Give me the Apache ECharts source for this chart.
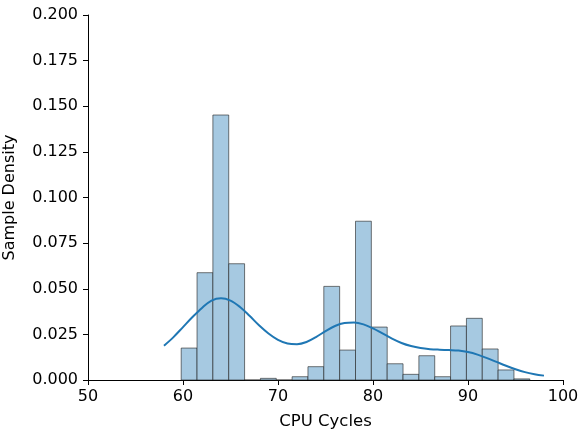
<!DOCTYPE html>
<html>
<head>
<meta charset="utf-8">
<script src="https://cdn.jsdelivr.net/npm/echarts@6/dist/echarts.min.js"></script>
<style>html,body{margin:0;padding:0;background:#fff}#c{width:579px;height:433px}</style>
</head>
<body>
<div id="c"></div>
<script>
// Histogram bins
const binStart = 59.81;
const binWidth = 1.668;
const binHeights = [0.0175, 0.0588, 0.1452, 0.0637, 0.0, 0.0009, 0.0, 0.0018, 0.0073, 0.0513, 0.0164,
                    0.087, 0.029, 0.0089, 0.0031, 0.0133, 0.0018, 0.0296, 0.0338, 0.017, 0.0055, 0.0006];
// KDE curve
const kdeX = [58,59,60,61,62,63,64,65,66,67,68,69,70,71,72,73,74,75,76,77,78,79,80,81,82,83,84,85,86,87,88,89,90,91,92,93,94,95,96,97,98];
const kdeY = [0.0188,0.0235,0.0290,0.0345,0.0395,0.0435,0.0448,0.0435,0.0400,0.0352,0.0300,0.0255,0.0220,0.0200,0.0196,0.0208,0.0235,0.0268,0.0296,0.0312,0.0315,0.0305,0.0283,0.0255,0.0227,0.0203,0.0186,0.0175,0.0169,0.0166,0.0164,0.0161,0.0153,0.0139,0.0120,0.0099,0.0078,0.0059,0.0043,0.0032,0.0024];
const xTicks = [50, 60, 70, 80, 90, 100];
const yTicks = [0, 0.025, 0.05, 0.075, 0.1, 0.125, 0.15, 0.175, 0.2];

const font = 'DejaVu Sans';
const chart = echarts.init(document.getElementById('c'), null, {renderer: 'canvas'});
const barData = binHeights.map((h, i) => [binStart + i * binWidth, binStart + (i + 1) * binWidth, h]);
chart.setOption({
  animation: false,
  grid: {left: 88, right: 16, top: 15, bottom: 53, containLabel: false, outerBoundsMode: 'none'},
  xAxis: {
    type: 'value', min: xTicks[0], max: xTicks[xTicks.length - 1], interval: 10,
    name: 'CPU Cycles', nameLocation: 'middle', nameGap: 33,
    nameTextStyle: {fontFamily: font, fontSize: 16.5, color: '#000'},
    axisLine: {show: true, onZero: false, lineStyle: {color: '#000', width: 1}},
    axisTick: {show: true, length: 5, lineStyle: {color: '#000'}},
    axisLabel: {fontFamily: font, fontSize: 16, color: '#000', margin: 9},
    splitLine: {show: false}
  },
  yAxis: {
    type: 'value', min: yTicks[0], max: yTicks[yTicks.length - 1], interval: 0.025,
    name: 'Sample Density', nameLocation: 'middle', nameGap: 70,
    nameTextStyle: {fontFamily: font, fontSize: 16, color: '#000'},
    axisLine: {show: true, lineStyle: {color: '#000', width: 1}},
    axisTick: {show: true, length: 5, lineStyle: {color: '#000'}},
    axisLabel: {fontFamily: font, fontSize: 16, color: '#000', margin: 10, formatter: v => v.toFixed(3)},
    splitLine: {show: false}
  },
  series: [
    {
      type: 'custom',
      data: barData,
      renderItem: function (params, api) {
        const p0 = api.coord([api.value(0), 0]);
        const p1 = api.coord([api.value(1), api.value(2)]);
        return {
          type: 'rect',
          shape: {x: p0[0], y: p1[1], width: p1[0] - p0[0], height: p0[1] - p1[1]},
          style: {fill: 'rgb(166,201,225)', stroke: 'rgba(30,30,30,0.6)', lineWidth: 1}
        };
      },
      encode: {x: [0, 1], y: 2},
      z: 1
    },
    {
      type: 'line',
      data: kdeX.map((x, i) => [x, kdeY[i]]),
      smooth: 0.35, showSymbol: false,
      lineStyle: {color: '#1f77b4', width: 2},
      z: 2
    }
  ]
});
</script>
</body>
</html>
